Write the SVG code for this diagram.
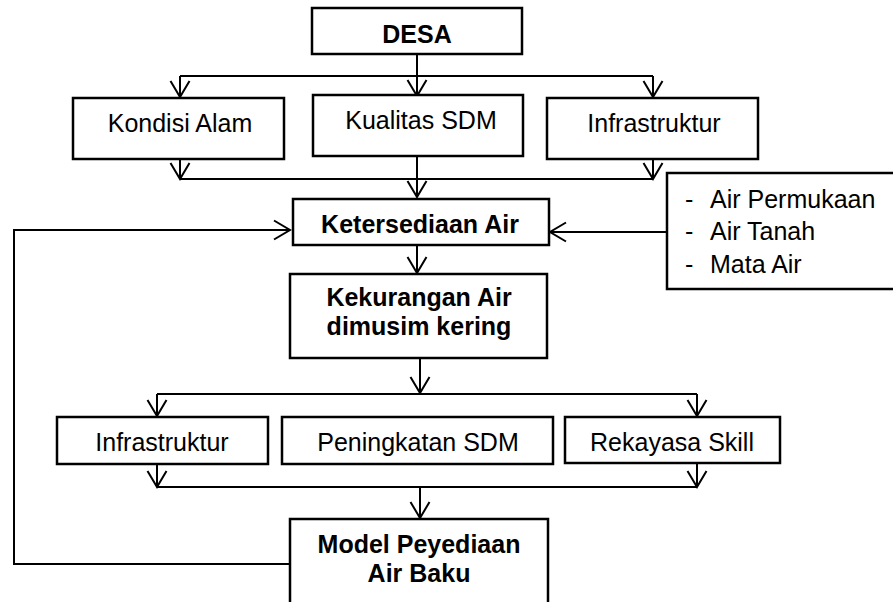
<svg xmlns="http://www.w3.org/2000/svg" width="893" height="602" viewBox="0 0 893 602">
<style>
.box{fill:#fff;stroke:#000;stroke-width:2.5}
.t{font-family:"Liberation Sans",Arial,sans-serif;font-size:25px;fill:#000;text-anchor:middle}
.b{font-weight:bold}
.l{text-anchor:start}
.c{fill:none;stroke:#000;stroke-width:2}
</style>
<defs>
<marker id="arr" markerUnits="userSpaceOnUse" markerWidth="20" markerHeight="22" viewBox="0 0 18 22" refX="17" refY="11" orient="auto">
<path d="M1,1.5 L17,11 L1,20.5" fill="none" stroke="#000" stroke-width="2"/>
</marker>
</defs>
<rect width="893" height="602" fill="#fff"/>
<g id="connectors">
<line class="c" x1="417" y1="54" x2="417" y2="96" marker-end="url(#arr)"/>
<line class="c" x1="180" y1="76" x2="653" y2="76"/>
<line class="c" x1="180" y1="76" x2="180" y2="97" marker-end="url(#arr)"/>
<line class="c" x1="653" y1="76" x2="653" y2="97" marker-end="url(#arr)"/>
<line class="c" x1="180" y1="159" x2="180" y2="179" marker-end="url(#arr)"/>
<line class="c" x1="653" y1="159" x2="653" y2="179" marker-end="url(#arr)"/>
<line class="c" x1="180" y1="179" x2="653" y2="179"/>
<line class="c" x1="417" y1="156" x2="417" y2="197" marker-end="url(#arr)"/>
<line class="c" x1="667" y1="232" x2="550" y2="232" marker-end="url(#arr)"/>
<polyline class="c" points="290,564 14,564 14,230 290,230" marker-end="url(#arr)"/>
<line class="c" x1="417" y1="245" x2="417" y2="273" marker-end="url(#arr)"/>
<line class="c" x1="420" y1="358" x2="420" y2="393" marker-end="url(#arr)"/>
<line class="c" x1="157" y1="394" x2="697" y2="394"/>
<line class="c" x1="157" y1="394" x2="157" y2="416" marker-end="url(#arr)"/>
<line class="c" x1="697" y1="394" x2="697" y2="416" marker-end="url(#arr)"/>
<line class="c" x1="157" y1="464" x2="157" y2="487" marker-end="url(#arr)"/>
<line class="c" x1="697" y1="463" x2="697" y2="487" marker-end="url(#arr)"/>
<line class="c" x1="157" y1="487" x2="697" y2="487"/>
<line class="c" x1="420" y1="487" x2="420" y2="518" marker-end="url(#arr)"/>
</g>
<g id="desa">
<rect class="box" x="312" y="8" width="210" height="46"/>
<text class="t b" x="417" y="43">DESA</text>
</g>
<g id="kondisi-alam">
<rect class="box" x="73" y="98" width="211" height="61"/>
<text class="t" x="180" y="132">Kondisi Alam</text>
</g>
<g id="kualitas-sdm">
<rect class="box" x="313" y="95" width="210" height="61"/>
<text class="t" x="421" y="129">Kualitas SDM</text>
</g>
<g id="infrastruktur-1">
<rect class="box" x="547" y="98" width="211" height="61"/>
<text class="t" x="654" y="132">Infrastruktur</text>
</g>
<g id="sumber-air">
<rect class="box" x="667" y="173" width="240" height="116"/>
<text class="t l" x="685" y="208">-</text>
<text class="t l" x="710" y="208">Air Permukaan</text>
<text class="t l" x="685" y="240">-</text>
<text class="t l" x="710" y="240">Air Tanah</text>
<text class="t l" x="685" y="273">-</text>
<text class="t l" x="710" y="273">Mata Air</text>
</g>
<g id="ketersediaan-air">
<rect class="box" x="293" y="199" width="256" height="46"/>
<text class="t b" x="420" y="233">Ketersediaan Air</text>
</g>
<g id="kekurangan-air">
<rect class="box" x="290" y="274" width="257" height="84"/>
<text class="t b" x="419" y="306">Kekurangan Air</text>
<text class="t b" x="419" y="335">dimusim kering</text>
</g>
<g id="infrastruktur-2">
<rect class="box" x="57" y="417" width="211" height="47"/>
<text class="t" x="162" y="451">Infrastruktur</text>
</g>
<g id="peningkatan-sdm">
<rect class="box" x="282" y="417" width="271" height="47"/>
<text class="t" x="418" y="451">Peningkatan SDM</text>
</g>
<g id="rekayasa-skill">
<rect class="box" x="565" y="417" width="215" height="46"/>
<text class="t" x="672" y="451">Rekayasa Skill</text>
</g>
<g id="model-peyediaan">
<rect class="box" x="290" y="519" width="258" height="100"/>
<text class="t b" x="419" y="553">Model Peyediaan</text>
<text class="t b" x="419" y="582">Air Baku</text>
</g>
</svg>
